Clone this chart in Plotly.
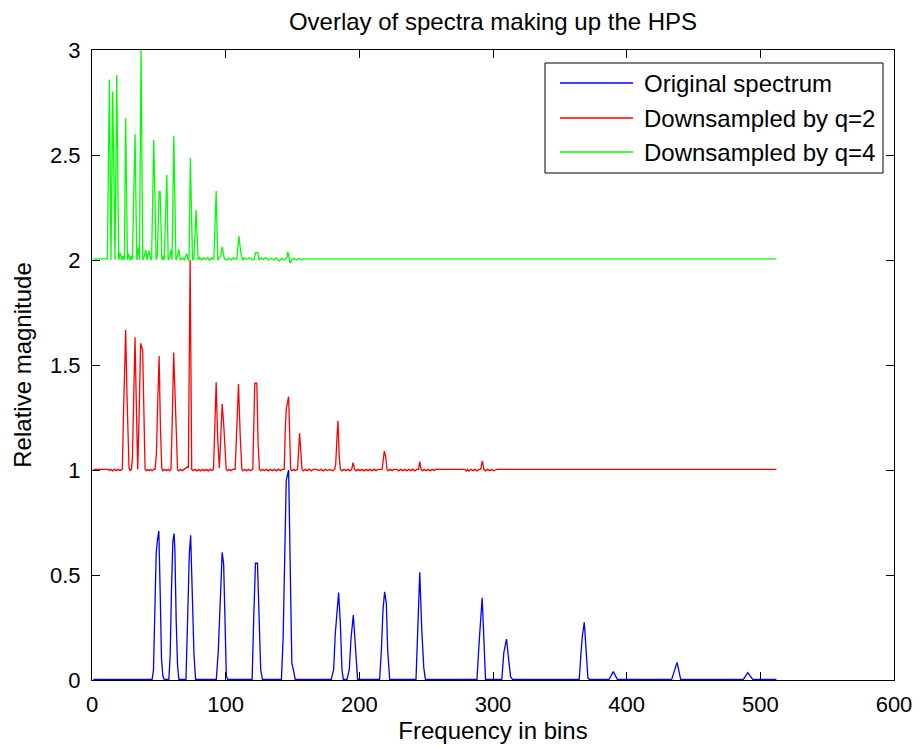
import plotly.graph_objects as go

# (bin, magnitude) vertices of each spectrum
orig_points = [
    (1, 0.003), (45, 0.003), (46, 0.05), (47, 0.3), (48, 0.6), (49, 0.67), (50, 0.71), (51, 0.42), (52, 0.1), (53, 0.02), (54, 0.003),
    (57.5, 0.003), (58.5, 0.12), (59.5, 0.44), (60.5, 0.66), (61.4, 0.698), (62, 0.62), (63, 0.28), (64, 0.07), (65, 0.003),
    (70.3, 0.003), (71.5, 0.28), (72.8, 0.6), (73.8, 0.689), (75.2, 0.38), (76.3, 0.12), (77.5, 0.003),
    (93, 0.003), (94.5, 0.14), (95.8, 0.38), (97.4, 0.608), (98.5, 0.55), (99.5, 0.2), (100.5, 0.02), (101.5, 0.003),
    (119.8, 0.003), (121, 0.3), (122.3, 0.556), (123.8, 0.556), (125, 0.25), (126.2, 0.05), (127.5, 0.003),
    (141.7, 0.003), (143, 0.2), (144.3, 0.75), (145.3, 0.95), (147.1, 1.0), (148.3, 0.55), (149.5, 0.08), (150.6, 0.05), (152, 0.003),
    (179, 0.003), (180.8, 0.05), (182, 0.22), (183.3, 0.35), (184.5, 0.416), (185.8, 0.27), (187, 0.05), (188, 0.003),
    (190.8, 0.003), (192.5, 0.05), (193.8, 0.2), (195.5, 0.309), (196.5, 0.2), (197.8, 0.05), (198.7, 0.003),
    (215.2, 0.003), (216.5, 0.143), (217.7, 0.333), (218.9, 0.42), (220.2, 0.365), (221.2, 0.143), (222.7, 0.003),
    (242.4, 0.003), (243.7, 0.24), (245.2, 0.513), (246.7, 0.24), (248.2, 0.06), (249.4, 0.003),
    (288, 0.003), (289.9, 0.206), (291.9, 0.392), (293.1, 0.206), (294.4, 0.003),
    (306.6, 0.003), (307.4, 0.1), (308.1, 0.13), (310.1, 0.195), (311.4, 0.127), (313.1, 0.016), (314.6, 0.003),
    (364.5, 0.003), (366, 0.143), (366.8, 0.206), (368.3, 0.275), (369.8, 0.111), (371, 0.01), (372, 0.003),
    (386.8, 0.003), (390, 0.04), (393, 0.003),
    (433.7, 0.003), (437.7, 0.084), (440.4, 0.003),
    (487.3, 0.003), (490.6, 0.035), (494.3, 0.003),
    (512, 0.003),
]

q2_points = [
    (1, 1.003), (12, 1.003), (13, 0.997), (14, 1.003), (15.5, 0.996), (17, 1.004), (18, 0.997), (19.5, 1.003), (21, 0.998), (22.7, 1.003),
    (23.5, 1.25), (24.3, 1.5), (25.2, 1.667), (26.2, 1.35), (27.7, 1.01), (28.5, 0.997), (29.5, 1.003),
    (30.2, 1.05), (31.2, 1.4), (32.2, 1.632), (33.2, 1.3), (34.2, 1.003),
    (35.2, 1.25), (36.4, 1.603), (37.9, 1.571), (39.7, 1.003), (40.5, 0.996), (41.5, 1.002), (42.5, 0.997), (44, 1.003), (45, 0.996), (46.2, 1.004), (47.2, 1.003),
    (48.2, 1.08), (49.2, 1.33), (50.2, 1.543), (51.2, 1.2), (52.2, 1.01), (53, 0.996), (54.2, 1.003), (55.5, 0.997), (57, 1.004), (58, 0.996), (59.1, 1.003),
    (60.1, 1.25), (61.1, 1.56), (62.2, 1.35), (63.4, 1.06), (64, 1.0), (65, 0.996), (66.2, 1.003), (67.5, 0.997), (69, 1.004), (70.5, 1.01), (71.5, 1.015), (72.1, 1.01),
    (73.4, 2.0), (74.6, 1.003), (75.5, 0.997), (77, 1.003), (78.5, 0.996), (80, 1.003), (81, 0.996), (82.5, 1.002), (84, 0.997), (85.5, 1.003), (87, 0.996), (88.5, 1.003), (89.8, 0.998), (90.9, 1.003),
    (92, 1.2), (92.9, 1.418), (94, 1.15), (95.3, 1.01),
    (96.3, 1.15), (97.4, 1.314), (98.5, 1.22), (99.5, 1.1), (100.4, 1.003), (101.5, 0.996), (102.5, 1.003), (104, 0.997), (105.5, 1.004), (107.1, 1.003),
    (108.4, 1.19), (109.6, 1.41), (110.9, 1.16), (112.1, 1.003), (113, 0.996), (114.3, 1.003), (115.5, 0.996), (117, 1.003), (118.5, 0.997), (120.3, 1.003),
    (121, 1.2), (121.8, 1.413), (123.3, 1.413), (124.3, 1.12), (125.3, 1.003), (126.2, 0.996), (127.5, 1.003), (129, 0.997), (130.5, 1.003), (132, 0.996),
    (133.5, 1.003), (135, 0.997), (136.5, 1.003), (138, 0.996), (139.5, 1.004), (141, 0.997), (142.5, 1.003), (143.8, 1.003),
    (144.6, 1.19), (145.3, 1.29), (147.1, 1.349), (147.8, 1.19), (148.6, 1.003), (149.5, 0.996), (150.8, 1.003), (152, 0.997), (153.8, 1.003),
    (155.3, 1.175), (156.3, 1.05), (157.1, 1.003), (158, 0.996), (159.5, 1.003), (161, 0.997), (162.5, 1.004), (164, 0.996), (165.5, 1.003),
    (168, 1.003), (170, 0.997), (171.5, 1.003), (173, 0.996), (174.5, 1.003), (176, 0.997), (178, 1.003), (180, 0.996), (181.5, 1.003),
    (182.3, 1.024), (183.3, 1.159), (184, 1.235), (185, 1.063), (185.8, 1.003), (187, 0.996), (188.5, 1.003), (190, 0.997), (191.5, 1.003), (193, 0.996), (194.3, 1.003),
    (195.3, 1.035), (196.5, 1.003), (197.5, 0.996), (199, 1.003), (200.5, 0.997), (202, 1.003), (203.5, 0.996), (205, 1.003), (206.5, 0.997), (208, 1.003),
    (209.5, 0.996), (211, 1.004), (212.5, 0.997), (214, 1.003), (217, 1.003),
    (218.7, 1.09), (219.7, 1.063), (220.7, 1.003), (221.5, 0.996), (223, 1.003), (224.5, 0.997), (226, 1.003), (228, 1.003), (229.5, 0.996), (231, 1.003),
    (232.5, 0.997), (234, 1.003), (235.5, 0.996), (237, 1.003), (238.5, 0.997), (240, 1.004), (241.5, 0.996), (243, 1.003), (244.3, 1.003),
    (245.2, 1.04), (246.2, 1.003), (247.3, 0.996), (248.5, 1.003), (250, 0.997), (251.5, 1.003), (253, 0.996), (254.5, 1.003), (256, 0.997), (257, 1.003),
    (279, 1.003), (280, 0.995), (281, 1.003), (282, 0.995), (283.5, 1.003), (285, 0.997), (286.5, 1.003), (288, 0.996), (289.5, 1.003), (290.8, 1.003),
    (292, 1.043), (293.2, 1.003), (294.5, 0.996), (296, 1.003), (297.5, 0.997), (299, 1.003), (300.5, 0.996), (302, 1.002), (303, 1.003),
    (512, 1.003),
]

q4_points = [
    (1, 2.005), (11.5, 2.005), (13, 2.86), (14.2, 2.0), (15.5, 2.802), (17.2, 2.0), (18.5, 2.881), (20, 2.0), (21, 2.035), (22.2, 2.0), (23.2, 2.02), (24.2, 2.0),
    (25.2, 2.675), (26.5, 2.0), (27.2, 2.03), (28.5, 2.0), (29.5, 2.02), (30.2, 2.0),
    (32.2, 2.599), (33.5, 2.0), (34.7, 2.06), (35.5, 2.0),
    (36.7, 3.0), (38, 2.0), (39, 2.016), (40.2, 2.048), (41.4, 2.0), (42.5, 2.045), (43.9, 2.0), (44.6, 2.008),
    (46.2, 2.571), (48, 2.0), (48.9, 2.02), (50.2, 2.325), (51, 2.325), (52.3, 2.0), (53.1, 2.02), (54, 2.0),
    (56, 2.405), (57, 2.0), (58, 2.01), (59.2, 2.05), (59.9, 2.0),
    (61.2, 2.59), (62.8, 2.0), (64, 2.02), (65, 2.05), (66, 2.0), (67.6, 2.01), (69, 2.0), (70.8, 2.03), (71.8, 2.0), (72.6, 2.005),
    (73.6, 2.486), (75.2, 2.0), (76.3, 2.005),
    (77.9, 2.238), (79.4, 2.0), (80.5, 2.012), (82, 2.0), (83.5, 2.01), (85, 2.003), (86.5, 2.012), (88, 1.998), (89.5, 2.01), (91.2, 2.003),
    (92.9, 2.329), (94.1, 2.0), (95.2, 2.01), (96.3, 2.02), (97.4, 2.063), (99.1, 2.005), (101, 2.0), (102.5, 2.01), (104, 2.0), (106, 2.01), (107.5, 2.003), (108.4, 2.005),
    (109.9, 2.114), (111.4, 2.03), (112.9, 1.998), (114, 2.01), (116, 2.003), (118, 2.01), (120, 2.0), (121.5, 2.005),
    (122.3, 2.035), (124, 2.035), (125, 2.0), (126.5, 2.01), (128, 2.003), (130, 2.01), (132, 2.0), (134, 2.008), (136, 2.0), (138, 2.01), (140, 1.995),
    (142, 2.008), (144, 2.0), (145.5, 2.01),
    (146.6, 2.038), (148.3, 1.985), (149.5, 2.0), (151, 2.008), (153, 2.0), (155, 2.008), (157, 2.0), (158, 2.005),
    (512, 2.005),
]

series_names = ["Original spectrum", "Downsampled by q=2", "Downsampled by q=4"]
series_colors = ["#0000ff", "#ff0000", "#00ff00"]

x_ticks = [0, 100, 200, 300, 400, 500, 600]
y_ticks = [0, 0.5, 1, 1.5, 2, 2.5, 3]
y_tick_labels = ["0", "0.5", "1", "1.5", "2", "2.5", "3"]

FONT = "Liberation Sans, Arial, Helvetica, sans-serif"
W, H = 919, 748
L, R, T, B = 92, 25, 50, 68


def paper_x(px):
    return (px - L) / (W - L - R)


def paper_y(py):
    return 1 - (py - T) / (H - T - B)


fig = go.Figure()
for pts, name, color in zip([orig_points, q2_points, q4_points], series_names, series_colors):
    xs = [p[0] for p in pts]
    ys = [p[1] for p in pts]
    fig.add_trace(go.Scatter(x=xs, y=ys, mode="lines", name=name,
                             line=dict(color=color, width=1.3), showlegend=False))

axis_common = dict(
    showline=True, linecolor="black", linewidth=1, mirror="ticks",
    ticks="inside", ticklen=8, tickcolor="black", tickwidth=1,
    showgrid=False, zeroline=False, automargin=False,
    tickfont=dict(family=FONT, size=22, color="black"),
)

fig.update_layout(
    width=W, height=H, autosize=False,
    margin=dict(l=L, r=R, t=T, b=B, pad=0),
    paper_bgcolor="white", plot_bgcolor="white",
    font=dict(family=FONT, color="black"),
    title=dict(text="Overlay of spectra making up the HPS", x=0.5, xref="paper",
               y=1 - 22 / H, yref="container", xanchor="center", yanchor="middle",
               font=dict(family=FONT, size=24, color="black")),
    xaxis=dict(range=[0, 600], tickvals=x_ticks, ticktext=[str(v) for v in x_ticks],
               title=dict(text="Frequency in bins", standoff=5,
                          font=dict(family=FONT, size=24, color="black")),
               ticklabelstandoff=5, **axis_common),
    yaxis=dict(range=[0, 3], tickvals=y_ticks, ticktext=y_tick_labels,
               title=dict(text="Relative magnitude", standoff=11,
                          font=dict(family=FONT, size=24, color="black")),
               ticklabelstandoff=6, **axis_common),
    showlegend=False,
)

# Legend box drawn in paper coordinates
box = dict(x0=paper_x(545), x1=paper_x(883), y0=paper_y(173), y1=paper_y(63))
shapes = [dict(type="rect", xref="paper", yref="paper", **box,
               line=dict(color="black", width=1), fillcolor="white", layer="above")]
annotations = []
row_y = [83, 118, 152]
for name, color, ry in zip(series_names, series_colors, row_y):
    shapes.append(dict(type="line", xref="paper", yref="paper",
                       x0=paper_x(560), x1=paper_x(633), y0=paper_y(ry), y1=paper_y(ry),
                       line=dict(color=color, width=1.3), layer="above"))
    annotations.append(dict(text=name, xref="paper", yref="paper",
                            x=paper_x(642), y=paper_y(ry), xanchor="left", yanchor="middle",
                            showarrow=False, font=dict(family=FONT, size=24, color="black")))
fig.update_layout(shapes=shapes, annotations=annotations)

fig.write_html("out.html")
